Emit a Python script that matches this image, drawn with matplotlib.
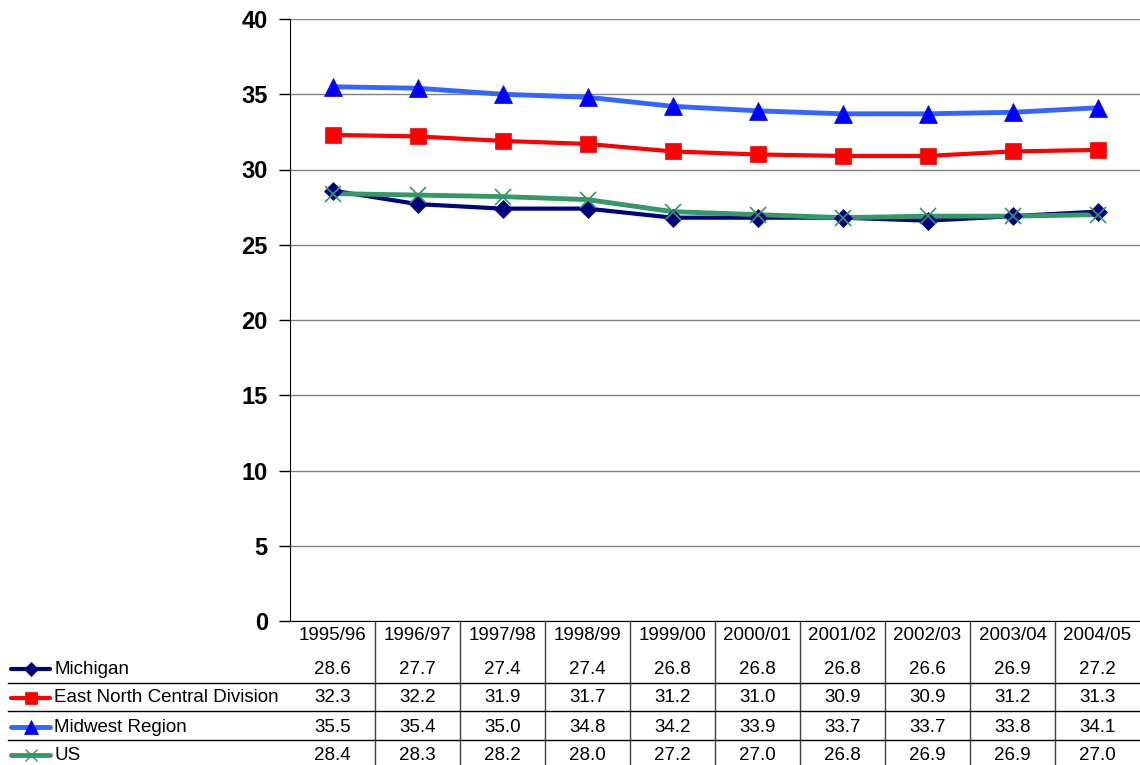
import numpy as np
import matplotlib.pyplot as plt
import matplotlib.transforms as mtransforms

plt.rcParams['font.family'] = ['Liberation Sans', 'DejaVu Sans']

years = ['1995/96', '1996/97', '1997/98', '1998/99', '1999/00',
         '2000/01', '2001/02', '2002/03', '2003/04', '2004/05']

michigan = [28.6, 27.7, 27.4, 27.4, 26.8, 26.8, 26.8, 26.6, 26.9, 27.2]
encd = [32.3, 32.2, 31.9, 31.7, 31.2, 31.0, 30.9, 30.9, 31.2, 31.3]
midwest = [35.5, 35.4, 35.0, 34.8, 34.2, 33.9, 33.7, 33.7, 33.8, 34.1]
us = [28.4, 28.3, 28.2, 28.0, 27.2, 27.0, 26.8, 26.9, 26.9, 27.0]

series = [
    ('Michigan', michigan, '#000080', '#000080', 'D', 9, 3.0),
    ('East North Central Division', encd, '#FF0000', '#FF0000', 's', 11.5, 3.0),
    ('Midwest Region', midwest, '#3366FF', '#0000FF', '^', 13, 3.5),
    ('US', us, '#339966', '#339966', 'x', 11, 3.5),
]

W, H = 1140, 765
fig = plt.figure(figsize=(W / 100, H / 100), dpi=100)

left, right, top, bottom = 290, 1140, 19, 621
ax = fig.add_axes([left / W, 1 - bottom / H, (right - left) / W, (bottom - top) / H])

x = np.arange(len(years))
for i, (name, vals, lc, mc, mk, ms, lw) in enumerate(series):
    ax.plot(x, vals, color=lc, lw=lw, zorder=3 + i, solid_capstyle='round')
for i, (name, vals, lc, mc, mk, ms, lw) in enumerate(series):
    ax.plot(x, vals, ls='none', marker=mk, markersize=ms, color=mc,
            markeredgewidth=1.2 if mk == 'x' else 0.5, zorder=10 + i)

ax.set_xlim(-0.5, len(years) - 0.5)
ax.set_ylim(0, 40)
ax.set_yticks(np.arange(0, 41, 5))
ax.set_xticks([])
ax.yaxis.grid(True, color='#808080', lw=1)
ax.set_axisbelow(True)
for s in ['top', 'right']:
    ax.spines[s].set_visible(False)
ax.spines['left'].set_color('black')
ax.spines['bottom'].set_color('black')
ax.tick_params(axis='y', direction='out', length=8, width=1, pad=8,
               labelsize=17)
for lbl in ax.get_yticklabels():
    lbl.set_fontweight('bold')

# data table underneath the chart
trans = mtransforms.blended_transform_factory(ax.transData, fig.transFigure)


def fy(py):
    return 1 - py / H


header_y = 636
row_y = [669, 698, 727, 755]
row_lines = [683, 711, 740]
fs = 13.5

for j, yr in enumerate(years):
    fig.text(j, fy(header_y), yr, transform=trans, ha='center', va='center',
             fontsize=fs)
for j in range(len(years) - 1):
    fig.add_artist(plt.Line2D([j + 0.5, j + 0.5], [fy(bottom), 0], transform=trans,
                              color='#404040', lw=1))
for py in row_lines:
    fig.add_artist(plt.Line2D([8 / W, 1], [fy(py), fy(py)], color='black', lw=1))

for (name, vals, lc, mc, mk, ms, lw), py in zip(series, row_y):
    fig.add_artist(plt.Line2D([11 / W, 50 / W], [fy(py), fy(py)], color=lc, lw=lw,
                              solid_capstyle='round'))
    fig.add_artist(plt.Line2D([31 / W], [fy(py)], ls='none', marker=mk,
                              markersize=ms * 0.75, color=mc,
                              markeredgewidth=1.0 if mk == 'x' else 0.5))
    fig.text(54 / W, fy(py), name, ha='left', va='center', fontsize=fs)
    for j, v in enumerate(vals):
        fig.text(j, fy(py), f'{v:.1f}', transform=trans, ha='center', va='center',
                 fontsize=fs)

fig.savefig('out.png', dpi=100)
